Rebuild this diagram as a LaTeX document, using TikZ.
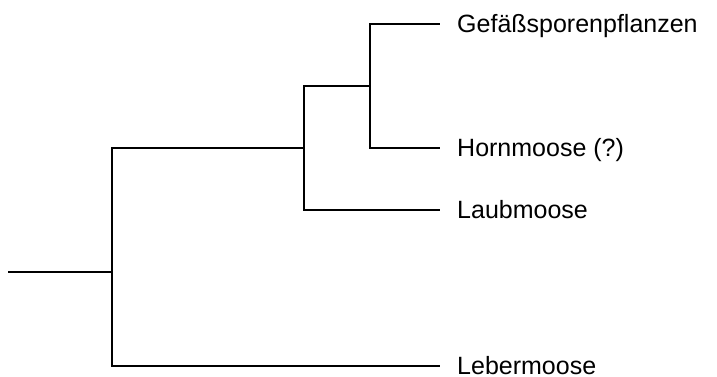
\documentclass[tikz,border=0pt]{standalone}
\usepackage{fontspec}
\setmainfont{Liberation Sans}
\usetikzlibrary{positioning}

\begin{document}
\begin{tikzpicture}[x=1pt,y=-1pt]
    % cladogram of land plants
    \tikzset{branch/.style = {line width=2pt,black}}
    \tikzset{taxon/.style = {anchor=west,inner xsep=17pt,text height=17.5pt,text depth=0pt,
       font=\fontsize{25}{29}\selectfont}}

    \useasboundingbox (0,0) rectangle (717,376);

    % inner nodes
    \coordinate (root) at (8,272);
    \coordinate (n1) at (112,272);
    \coordinate (n2) at (304,148);
    \coordinate (n3) at (370,86);

    % taxa
    \node[taxon] (gef)   at (440,24)  {Gefäßsporenpflanzen};
    \node[taxon] (horn)  at (440,148) {Hornmoose (?)};
    \node[taxon] (laub)  at (440,210) {Laubmoose};
    \node[taxon] (leber) at (440,366) {Lebermoose};

    % branches
    \draw[branch] (root) -- (n1);
    \draw[branch] (n1) |- (n2);
    \draw[branch] (n1) |- (leber.west);
    \draw[branch] (n2) |- (n3);
    \draw[branch] (n2) |- (laub.west);
    \draw[branch] (n3) |- (gef.west);
    \draw[branch] (n3) |- (horn.west);
\end{tikzpicture}
\end{document}
